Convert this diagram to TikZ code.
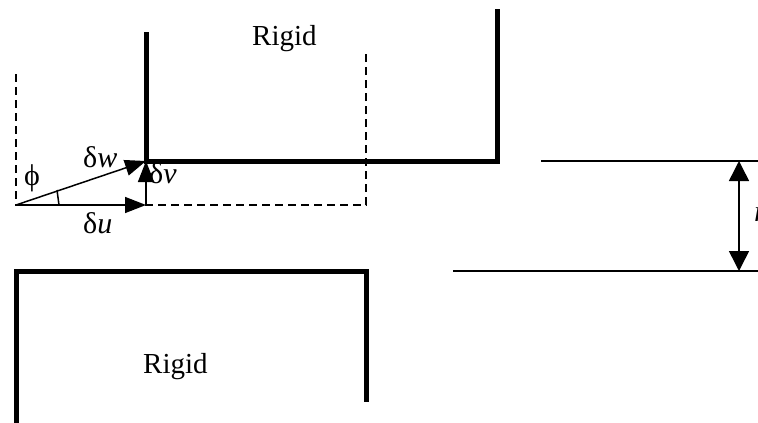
\documentclass[tikz,border=0pt]{standalone}
\usepackage{fontspec}
\setmainfont{Liberation Serif}
\usetikzlibrary{arrows.meta}
\tikzset{
  wall/.style={line width=5pt, line join=miter},
  thin/.style={line width=1.5pt},
  guide/.style={line width=1.5pt, dash pattern=on 8pt off 5pt},
  vec/.style={line width=1.5pt, -{Triangle[length=21pt,width=16pt]}},
  dimarrow/.style={line width=1.5pt, {Triangle[length=20pt,width=20pt]}-{Triangle[length=20pt,width=20pt]}},
  lab/.style={inner sep=0pt, font=\fontsize{30}{34}\selectfont},
  big/.style={inner sep=0pt, font=\fontsize{29}{34}\selectfont}
}
\begin{document}
\begin{tikzpicture}[x=1pt,y=-1pt]
\useasboundingbox (0,0) rectangle (758,423);
% upper rigid body
\coordinate (ua) at (146,32);
\coordinate (C) at (146,161);
\coordinate (ub) at (497,161);
\coordinate (uc) at (497,9);
\draw[wall] (ua) -- (C) -- (ub) -- (uc);
\node[big, anchor=base west] (rigidU) at (252,45) {Rigid};
% dashed original position
\coordinate (da) at (16,74);
\coordinate (O) at (16,205);
\coordinate (db) at (366,205);
\coordinate (dc) at (366,52);
\draw[guide] (da) -- (O) -- (db) -- (dc);
% lower rigid body
\coordinate (la) at (16,425);
\coordinate (lb) at (16,271);
\coordinate (lc) at (366,271);
\coordinate (ld) at (366,402);
\draw[wall] (la) -- (lb) -- (lc) -- (ld);
\node[big, anchor=base west] (rigidL) at (143,373) {Rigid};
% displacement vectors
\coordinate (B) at (146,205);
\draw[vec] (O) -- (B);
\draw[vec] (B) -- (C);
\draw[vec] (O) -- (C);
\coordinate (t1) at (59,205);
\coordinate (t2) at (57,190);
\draw[thin] (t1) -- (t2);
\node[lab, anchor=center] (phi) at (32,178) {ϕ};
\node[lab, anchor=base west] (dw) at (83,167) {δ\textit{w}};
\node[lab, anchor=base west] (dv) at (149,183) {δ\textit{v}};
\node[lab, anchor=base west] (du) at (83,233) {δ\textit{u}};
% gap dimension
\coordinate (ra) at (541,161);
\coordinate (rb) at (758,161);
\coordinate (rc) at (453,271);
\coordinate (rd) at (758,271);
\draw[thin] (ra) -- (rb);
\draw[thin] (rc) -- (rd);
\coordinate (g1) at (739,161);
\coordinate (g2) at (739,271);
\draw[dimarrow] (g1) -- (g2);
\node[lab, anchor=base west] (gap) at (754,221) {\textit{r}};
\end{tikzpicture}
\end{document}
